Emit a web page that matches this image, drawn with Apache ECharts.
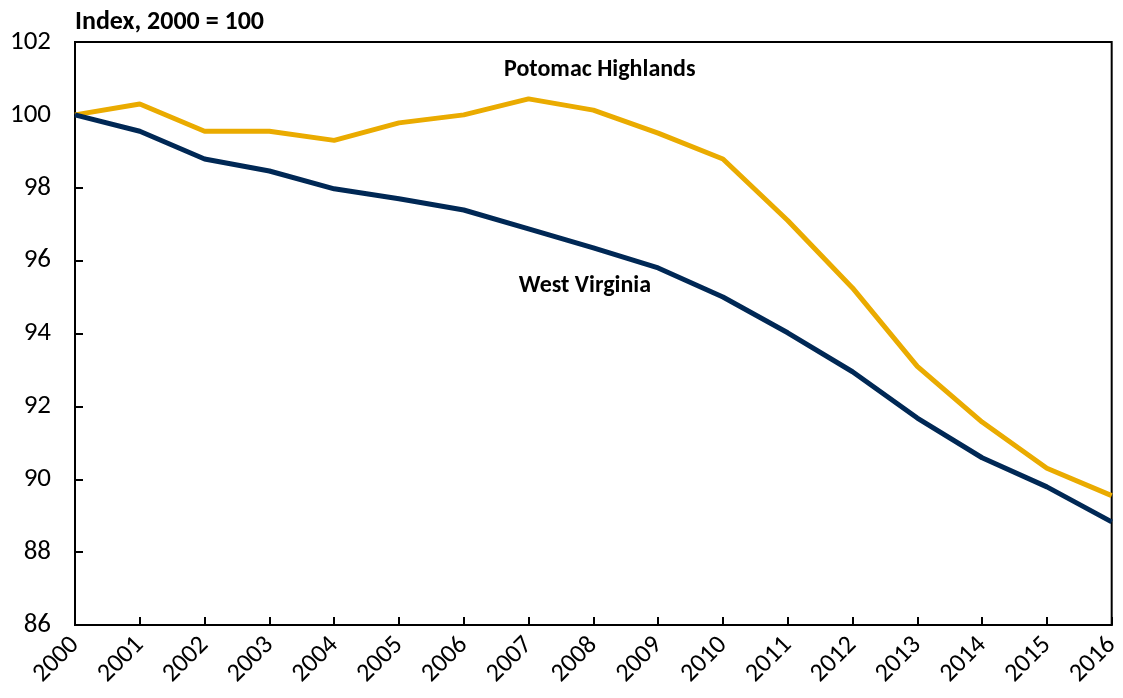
<!DOCTYPE html>
<html>
<head>
<meta charset="utf-8">
<script src="https://cdn.jsdelivr.net/npm/echarts@6/dist/echarts.min.js"></script>
<style>
  html, body { margin: 0; padding: 0; background: #fff; }
  #chart { width: 1123px; height: 698px; }
</style>
</head>
<body>
<div id="chart"></div>
<script>
const years = [2000, 2001, 2002, 2003, 2004, 2005, 2006, 2007, 2008, 2009, 2010, 2011, 2012, 2013, 2014, 2015, 2016]
const potomacHighlands = [100, 100.3, 99.55, 99.55, 99.3, 99.78, 100.0, 100.44, 100.13, 99.5, 98.79, 97.1, 95.25, 93.1, 91.57, 90.3, 89.55]
const westVirginia = [100, 99.55, 98.79, 98.46, 97.97, 97.7, 97.39, 96.87, 96.35, 95.8, 95.0, 94.02, 92.95, 91.68, 90.59, 89.79, 88.83]

const font = 'Carlito, Lato, "Open Sans", sans-serif'
const myChart = echarts.init(document.getElementById('chart'))

const toPairs = (vals) => vals.map((v, i) => [years[i], v])

const labelStyle = {
  show: true,
  fontSize: 24,
  fontWeight: 'bold',
  color: '#000',
  fontFamily: font,
  position: 'inside'
}

const tickStyle = { show: true, inside: true, length: 8, lineStyle: { color: '#000', width: 2 } }

const option = {
  animation: false,
  textStyle: { fontFamily: font },
  title: {
    text: 'Index, 2000 = 100',
    left: 70,
    top: 4,
    textStyle: { fontFamily: font, fontSize: 26, fontWeight: 'bold', color: '#000' }
  },
  grid: {
    left: 75,
    right: 5,
    top: 42,
    bottom: 73,
    show: true,
    borderColor: '#000',
    borderWidth: 2
  },
  xAxis: {
    type: 'value',
    min: 2000,
    max: 2016,
    interval: 1,
    splitLine: { show: false },
    axisLine: { show: true, lineStyle: { color: '#000', width: 2 } },
    axisTick: tickStyle,
    axisLabel: {
      rotate: 45,
      margin: 16,
      fontSize: 26,
      color: '#000',
      fontFamily: font,
      formatter: (v) => String(v)
    }
  },
  yAxis: {
    type: 'value',
    min: 86,
    max: 102,
    interval: 2,
    splitLine: { show: false },
    axisLine: { show: true, lineStyle: { color: '#000', width: 2 } },
    axisTick: tickStyle,
    axisLabel: { fontSize: 27, color: '#000', margin: 24, fontFamily: font }
  },
  series: [
    {
      name: 'Potomac Highlands',
      type: 'line',
      data: toPairs(potomacHighlands),
      symbol: 'none',
      lineStyle: { color: '#EAAB00', width: 5 },
      z: 2,
      markPoint: {
        symbol: 'circle',
        symbolSize: 1,
        itemStyle: { color: 'rgba(0,0,0,0)' },
        data: [{ coord: [2008.1, 101.23] }],
        label: Object.assign({ formatter: 'Potomac Highlands' }, labelStyle)
      }
    },
    {
      name: 'West Virginia',
      type: 'line',
      data: toPairs(westVirginia),
      symbol: 'none',
      lineStyle: { color: '#002855', width: 5 },
      z: 3,
      markPoint: {
        symbol: 'circle',
        symbolSize: 1,
        itemStyle: { color: 'rgba(0,0,0,0)' },
        data: [{ coord: [2007.87, 95.3] }],
        label: Object.assign({ formatter: 'West Virginia' }, labelStyle)
      }
    }
  ]
}

myChart.setOption(option)
</script>
</body>
</html>
